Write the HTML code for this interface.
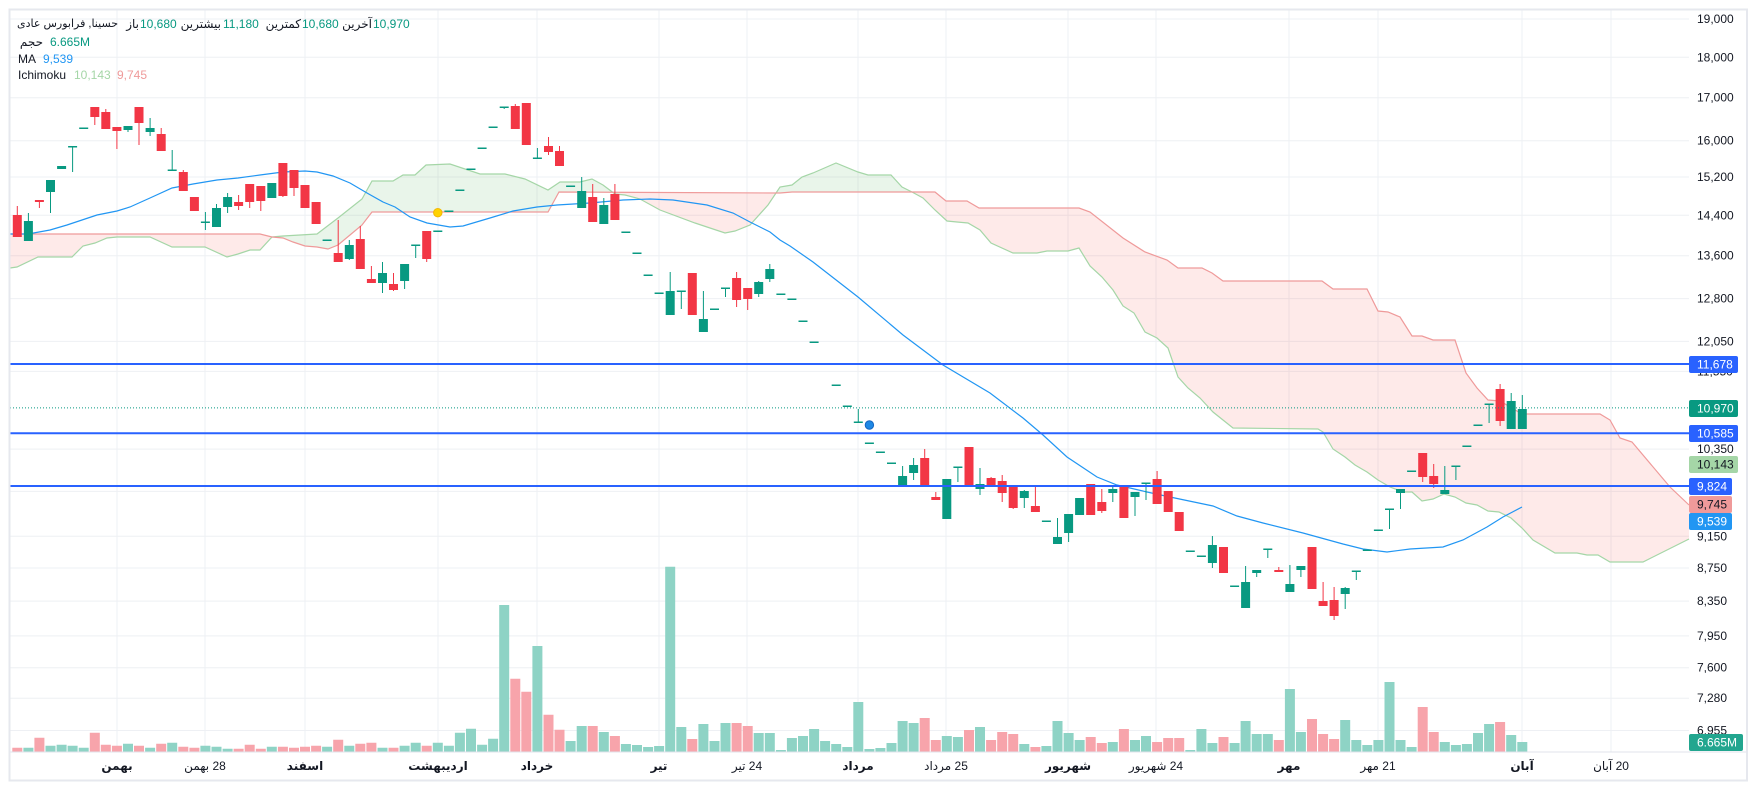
<!DOCTYPE html>
<html><head><meta charset="utf-8">
<style>
html,body{margin:0;padding:0;background:#fff;}
body{width:1757px;height:790px;position:relative;overflow:hidden;font-family:"Liberation Sans","DejaVu Sans",sans-serif;}
svg{position:absolute;left:0;top:0;}
svg text{font-family:"Liberation Sans","DejaVu Sans",sans-serif;font-size:12px;}
.t{position:absolute;font-size:12px;line-height:14px;white-space:nowrap;color:#131722;}
.g{color:#089981;}
.tl{position:absolute;top:759px;font-size:12px;line-height:14px;white-space:nowrap;color:#131722;transform:translateX(-50%);}
.b{font-weight:bold;}
</style></head><body>
<svg width="1757" height="790" viewBox="0 0 1757 790">
<defs>
<clipPath id="abv"><polygon points="10,0 1689,0 1689,505 1670,487 1632,442 1620,438 1610,420 1600,414 1522,414 1500,401 1488,400 1477,388 1466,373 1455,340 1433,340 1422,336 1412,336 1400,317 1388,312 1378,311 1367,289 1333,289 1322,281 1223,281 1212,273 1202,268 1178,268 1167,260 1145,252 1123,238 1090,212 1079,208 979,208 967,201 946,201 935,192 792,192 780,193 559,192 548,212 372,212 362,225 350,235 338,245 328,249 317,247 305,246 293,242 283,238 272,237 260,234 10,234"/></clipPath>
<clipPath id="blw"><polygon points="10,790 1689,790 1689,505 1670,487 1632,442 1620,438 1610,420 1600,414 1522,414 1500,401 1488,400 1477,388 1466,373 1455,340 1433,340 1422,336 1412,336 1400,317 1388,312 1378,311 1367,289 1333,289 1322,281 1223,281 1212,273 1202,268 1178,268 1167,260 1145,252 1123,238 1090,212 1079,208 979,208 967,201 946,201 935,192 792,192 780,193 559,192 548,212 372,212 362,225 350,235 338,245 328,249 317,247 305,246 293,242 283,238 272,237 260,234 10,234"/></clipPath>
</defs>
<!-- grid -->
<g stroke="#eef0f4" stroke-width="1">
<path d="M10 19H1689M10 57.3H1689M10 97.7H1689M10 140.7H1689M10 177H1689M10 215.3H1689M10 255.7H1689M10 298.6H1689M10 341.4H1689M10 371.4H1689M10 449.1H1689M10 491.4H1689M10 536.3H1689M10 568H1689M10 601.1H1689M10 635.9H1689M10 667.7H1689M10 698.2H1689M10 730.5H1689"/>
<path d="M117 10V752M205 10V752M305 10V752M438 10V752M537 10V752M659 10V752M747 10V752M858 10V752M946 10V752M1068 10V752M1156 10V752M1289 10V752M1378 10V752M1522 10V752M1611 10V752"/>
</g>
<!-- volume -->
<path fill="#8ed3c5" d="M23.4 747.7h10V752h-10zM45.5 745.7h10V752h-10zM56.6 744.7h10V752h-10zM67.6 745.7h10V752h-10zM78.7 747.7h10V752h-10zM123 743.7h10V752h-10zM145.1 747.7h10V752h-10zM167.2 742.7h10V752h-10zM200.4 745.7h10V752h-10zM211.5 746.7h10V752h-10zM222.6 748.7h10V752h-10zM266.8 746.7h10V752h-10zM322.1 746.7h10V752h-10zM344.3 745.7h10V752h-10zM377.5 747.7h10V752h-10zM399.6 745.7h10V752h-10zM410.7 742.7h10V752h-10zM432.8 742.7h10V752h-10zM443.9 745.7h10V752h-10zM454.9 732.7h10V752h-10zM466 728.7h10V752h-10zM477.1 744.7h10V752h-10zM488.1 738.7h10V752h-10zM499.2 605h10V752h-10zM532.4 646h10V752h-10zM565.6 741h10V752h-10zM576.7 726h10V752h-10zM598.8 732h10V752h-10zM620.9 744h10V752h-10zM632 745h10V752h-10zM643.1 747h10V752h-10zM654.1 746h10V752h-10zM665.2 566.7h10V752h-10zM676.3 727h10V752h-10zM698.4 724h10V752h-10zM709.5 741h10V752h-10zM720.5 723h10V752h-10zM753.7 733h10V752h-10zM764.8 733h10V752h-10zM775.9 750h10V752h-10zM786.9 738h10V752h-10zM798 736h10V752h-10zM809.1 729h10V752h-10zM820.1 741h10V752h-10zM831.2 744h10V752h-10zM842.3 747h10V752h-10zM853.3 702h10V752h-10zM864.4 749h10V752h-10zM875.4 748h10V752h-10zM886.5 743h10V752h-10zM897.6 721h10V752h-10zM908.6 723h10V752h-10zM941.8 736h10V752h-10zM952.9 737h10V752h-10zM975 727h10V752h-10zM1019.3 744h10V752h-10zM1041.4 746h10V752h-10zM1052.5 721h10V752h-10zM1063.6 733h10V752h-10zM1074.6 740h10V752h-10zM1107.8 742h10V752h-10zM1130 740h10V752h-10zM1141 736h10V752h-10zM1185.3 750h10V752h-10zM1196.4 729h10V752h-10zM1207.4 743h10V752h-10zM1229.6 743h10V752h-10zM1240.6 721h10V752h-10zM1251.7 734h10V752h-10zM1262.8 734h10V752h-10zM1284.9 689h10V752h-10zM1295.9 732h10V752h-10zM1340.2 720h10V752h-10zM1351.3 740h10V752h-10zM1362.3 745h10V752h-10zM1373.4 740h10V752h-10zM1384.5 682h10V752h-10zM1395.5 740h10V752h-10zM1406.6 747h10V752h-10zM1439.8 742h10V752h-10zM1450.9 745h10V752h-10zM1461.9 744h10V752h-10zM1473 733h10V752h-10zM1484.1 724h10V752h-10zM1506.2 735h10V752h-10zM1517.3 742h10V752h-10z"/>
<path fill="#f7a4ab" d="M12.3 747.7h10V752h-10zM34.4 737.7h10V752h-10zM89.8 732.7h10V752h-10zM100.8 744.7h10V752h-10zM111.9 745.7h10V752h-10zM134 745.7h10V752h-10zM156.2 743.7h10V752h-10zM178.3 746.7h10V752h-10zM189.4 747.7h10V752h-10zM233.6 748.7h10V752h-10zM244.7 744.7h10V752h-10zM255.8 748.7h10V752h-10zM277.9 746.7h10V752h-10zM289 747.7h10V752h-10zM300 746.7h10V752h-10zM311.1 745.7h10V752h-10zM333.2 739.7h10V752h-10zM355.3 743.7h10V752h-10zM366.4 742.7h10V752h-10zM388.5 747.7h10V752h-10zM421.7 745.7h10V752h-10zM510.3 678.7h10V752h-10zM521.3 691.7h10V752h-10zM543.5 714.7h10V752h-10zM554.5 729.7h10V752h-10zM587.7 726h10V752h-10zM609.9 736h10V752h-10zM687.3 739h10V752h-10zM731.6 723h10V752h-10zM742.7 726h10V752h-10zM919.7 718h10V752h-10zM930.8 740h10V752h-10zM964 730h10V752h-10zM986.1 740h10V752h-10zM997.2 732h10V752h-10zM1008.2 734h10V752h-10zM1030.4 747h10V752h-10zM1085.7 737h10V752h-10zM1096.8 743h10V752h-10zM1118.9 729h10V752h-10zM1152.1 742h10V752h-10zM1163.2 738h10V752h-10zM1174.2 738h10V752h-10zM1218.5 737h10V752h-10zM1273.8 740h10V752h-10zM1307 719h10V752h-10zM1318.1 734h10V752h-10zM1329.1 739h10V752h-10zM1417.7 707h10V752h-10zM1428.7 732h10V752h-10zM1495.1 722h10V752h-10z"/>
<!-- cloud -->
<polygon id="cp" clip-path="url(#abv)" fill="#4caf50" fill-opacity="0.12" points="10,268 17,267 38,257 72,257 83,246 95,243 107,238 117,237 150,237 172,247 205,247 227,257 238,254 250,250 260,250 272,237 283,236 317,234 338,218 362,199 372,181 393,181 403,175 415,175 426,165 450,164 480,174 505,174 525,179 548,190 560,182 580,182 592,179 603,185 615,194 625,195 640,199 660,210 695,223 710,228 725,233 735,231 750,225 768,205 780,187 792,185 802,177 813,173 836,163 858,172 868,175 891,175 902,187 912,192 923,198 935,210 947,221 957,222 968,223 980,230 991,243 1013,253 1037,253 1047,251 1068,251 1079,248 1090,266 1102,277 1113,290 1123,306 1134,313 1145,332 1157,338 1168,348 1178,377 1188,388 1200,398 1213,412 1233,428 1318,429 1323,432 1333,449 1345,457 1355,465 1367,472 1378,480 1390,487 1403,492 1412,492 1422,501 1433,499 1444,494 1455,497 1466,503 1477,505 1488,511 1499,512 1511,518 1522,528 1533,540 1555,553 1577,553 1587,555 1598,555 1610,562 1643,562 1667,550 1689,539 1689,505 1670,487 1632,442 1620,438 1610,420 1600,414 1522,414 1500,401 1488,400 1477,388 1466,373 1455,340 1433,340 1422,336 1412,336 1400,317 1388,312 1378,311 1367,289 1333,289 1322,281 1223,281 1212,273 1202,268 1178,268 1167,260 1145,252 1123,238 1090,212 1079,208 979,208 967,201 946,201 935,192 792,192 780,193 559,192 548,212 372,212 362,225 350,235 338,245 328,249 317,247 305,246 293,242 283,238 272,237 260,234 10,234"/>
<polygon clip-path="url(#blw)" fill="#f44336" fill-opacity="0.11" points="10,268 17,267 38,257 72,257 83,246 95,243 107,238 117,237 150,237 172,247 205,247 227,257 238,254 250,250 260,250 272,237 283,236 317,234 338,218 362,199 372,181 393,181 403,175 415,175 426,165 450,164 480,174 505,174 525,179 548,190 560,182 580,182 592,179 603,185 615,194 625,195 640,199 660,210 695,223 710,228 725,233 735,231 750,225 768,205 780,187 792,185 802,177 813,173 836,163 858,172 868,175 891,175 902,187 912,192 923,198 935,210 947,221 957,222 968,223 980,230 991,243 1013,253 1037,253 1047,251 1068,251 1079,248 1090,266 1102,277 1113,290 1123,306 1134,313 1145,332 1157,338 1168,348 1178,377 1188,388 1200,398 1213,412 1233,428 1318,429 1323,432 1333,449 1345,457 1355,465 1367,472 1378,480 1390,487 1403,492 1412,492 1422,501 1433,499 1444,494 1455,497 1466,503 1477,505 1488,511 1499,512 1511,518 1522,528 1533,540 1555,553 1577,553 1587,555 1598,555 1610,562 1643,562 1667,550 1689,539 1689,505 1670,487 1632,442 1620,438 1610,420 1600,414 1522,414 1500,401 1488,400 1477,388 1466,373 1455,340 1433,340 1422,336 1412,336 1400,317 1388,312 1378,311 1367,289 1333,289 1322,281 1223,281 1212,273 1202,268 1178,268 1167,260 1145,252 1123,238 1090,212 1079,208 979,208 967,201 946,201 935,192 792,192 780,193 559,192 548,212 372,212 362,225 350,235 338,245 328,249 317,247 305,246 293,242 283,238 272,237 260,234 10,234"/>
<polyline fill="none" stroke="#a5d6a7" stroke-width="1.2" points="10,268 17,267 38,257 72,257 83,246 95,243 107,238 117,237 150,237 172,247 205,247 227,257 238,254 250,250 260,250 272,237 283,236 317,234 338,218 362,199 372,181 393,181 403,175 415,175 426,165 450,164 480,174 505,174 525,179 548,190 560,182 580,182 592,179 603,185 615,194 625,195 640,199 660,210 695,223 710,228 725,233 735,231 750,225 768,205 780,187 792,185 802,177 813,173 836,163 858,172 868,175 891,175 902,187 912,192 923,198 935,210 947,221 957,222 968,223 980,230 991,243 1013,253 1037,253 1047,251 1068,251 1079,248 1090,266 1102,277 1113,290 1123,306 1134,313 1145,332 1157,338 1168,348 1178,377 1188,388 1200,398 1213,412 1233,428 1318,429 1323,432 1333,449 1345,457 1355,465 1367,472 1378,480 1390,487 1403,492 1412,492 1422,501 1433,499 1444,494 1455,497 1466,503 1477,505 1488,511 1499,512 1511,518 1522,528 1533,540 1555,553 1577,553 1587,555 1598,555 1610,562 1643,562 1667,550 1689,539"/>
<polyline fill="none" stroke="#ef9a9a" stroke-width="1.2" points="10,234 260,234 272,237 283,238 293,242 305,246 317,247 328,249 338,245 350,235 362,225 372,212 548,212 559,192 780,193 792,192 935,192 946,201 967,201 979,208 1079,208 1090,212 1123,238 1145,252 1167,260 1178,268 1202,268 1212,273 1223,281 1322,281 1333,289 1367,289 1378,311 1388,312 1400,317 1412,336 1422,336 1433,340 1455,340 1466,373 1477,388 1488,400 1500,401 1522,414 1600,414 1610,420 1620,438 1632,442 1670,487 1689,505"/>
<!-- MA -->
<polyline fill="none" stroke="#2196f3" stroke-width="1.2" points="10,234 28,234 50,230 67,225 97,215 117,211 130,207 150,198 172,188 193,184 217,180 238,178 260,175 283,172 305,171 317,172 333,176 350,183 367,193 383,202 395,207 410,217 427,223 450,227 463,226 490,218 513,211 537,207 557,205 590,203 623,200 650,199 673,200 707,205 733,213 750,222 770,232 780,240 790,246 813,262 858,297 903,335 943,365 990,393 1023,418 1043,435 1067,457 1097,477 1117,485 1147,492 1170,497 1213,506 1237,516 1263,523 1303,533 1343,544 1363,549 1387,552 1410,549 1443,547 1463,540 1487,527 1503,517 1522,507"/>
<!-- candles -->
<path fill="none" stroke="#089981" stroke-width="1" d="M28.4 213V241M50.5 180V213M72.6 146V172M128 126V132M150.1 118V136M172.2 150V170M205.4 212V230M216.5 204V227M227.6 193V213M349.3 240V260M382.5 262V293M404.6 264V289M415.7 245V258M504.2 107V109M537.4 148V158M581.7 177V208M603.8 198V224M670.2 272V315M681.3 291V309M703.4 291V332M725.5 288V297M758.7 281V297M769.8 264V282M858.3 409V422M902.6 466V485M913.6 458V480M957.9 467V482M980 468V495M1024.3 490V508M1057.5 518V544M1068.6 514V542M1112.8 487V502M1135 492V516M1146 483V500M1212.4 536V568M1245.6 566V608M1256.7 570V577M1267.8 549V558M1289.9 565V592M1300.9 566V577M1345.2 587V609M1356.3 571V580M1389.5 509V529M1400.5 489V509M1444.8 466V494M1455.9 466V480M1489.1 404V423M1511.2 393V429M1522.3 395V429"/>
<path fill="none" stroke="#f23645" stroke-width="1" d="M17.3 206V237M39.4 200V208M94.8 107V125M105.8 109V129M116.9 127V149M139 107V145M161.2 128V151M183.3 170V191M238.6 195V210M249.7 184V208M260.8 186V211M282.9 163V197M294 170V196M338.2 220V262M360.3 226V269M371.4 266V283M393.5 273V291M426.7 231V262M515.3 104V129M548.5 137V155M559.5 146V166M592.7 184V222M614.9 184V220M736.6 272V307M747.7 288V310M924.7 449V485M935.8 492V500M991.1 477V487M1002.2 475V502M1013.2 486V509M1035.4 487V512M1101.8 489V513M1157.1 471V504M1278.8 567V572M1323.1 582V606M1334.1 587V620M1422.7 453V482M1433.7 464V488M1500.1 384V426"/>
<path fill="#089981" d="M23.9 221h9v20h-9zM46 180h9v12h-9zM57.1 166h9v3h-9zM68.1 146h9v1.5h-9zM79.2 127.5h9v1.5h-9zM123.5 126h9v4h-9zM145.6 128h9v4h-9zM167.7 169.5h9v1.5h-9zM200.9 221.5h9v1.5h-9zM212 208h9v19h-9zM223.1 197h9v10h-9zM267.3 183h9v15h-9zM322.6 239.5h9v1.5h-9zM344.8 245h9v14h-9zM378 273h9v10h-9zM400.1 264h9v17h-9zM411.2 244.5h9v1.5h-9zM433.3 230.5h9v1.5h-9zM444.4 210.5h9v1.5h-9zM455.4 189.5h9v1.5h-9zM466.5 168.5h9v1.5h-9zM477.6 147.5h9v1.5h-9zM488.6 126.5h9v1.5h-9zM499.7 106.5h9v1.5h-9zM532.9 157.5h9v1.5h-9zM566.1 185.5h9v1.5h-9zM577.2 191h9v17h-9zM599.3 205h9v19h-9zM621.4 231.5h9v1.5h-9zM632.5 252.5h9v1.5h-9zM643.6 274.5h9v1.5h-9zM654.6 292.5h9v1.5h-9zM665.7 291h9v24h-9zM676.8 290.5h9v1.5h-9zM698.9 319h9v13h-9zM710 308.5h9v1.5h-9zM721 287.5h9v1.5h-9zM754.2 282h9v12h-9zM765.3 269h9v10h-9zM776.4 293.5h9v1.5h-9zM787.4 298.5h9v1.5h-9zM798.5 320.5h9v1.5h-9zM809.6 341.5h9v1.5h-9zM820.6 363.5h9v1.5h-9zM831.7 384.5h9v1.5h-9zM842.8 405.5h9v1.5h-9zM853.8 421.5h9v1.5h-9zM864.9 442.5h9v1.5h-9zM875.9 451.5h9v1.5h-9zM887 462.5h9v1.5h-9zM898.1 476h9v9h-9zM909.1 465h9v8h-9zM942.3 479h9v40h-9zM953.4 466.5h9v1.5h-9zM975.5 484h9v5h-9zM1019.8 491h9v7h-9zM1041.9 520.5h9v1.5h-9zM1053 537h9v7h-9zM1064.1 514h9v19h-9zM1075.1 498h9v17h-9zM1108.3 489h9v4h-9zM1130.5 492h9v5h-9zM1141.5 482.5h9v1.5h-9zM1185.8 550.5h9v1.5h-9zM1196.9 555.5h9v1.5h-9zM1207.9 545h9v18h-9zM1230.1 585.5h9v1.5h-9zM1241.1 582h9v26h-9zM1252.2 570h9v3h-9zM1263.3 548.5h9v1.5h-9zM1285.4 584h9v8h-9zM1296.4 566h9v4h-9zM1340.7 588h9v6h-9zM1351.8 570.5h9v1.5h-9zM1362.8 549.5h9v1.5h-9zM1373.9 529.5h9v1.5h-9zM1385 508.5h9v1.5h-9zM1396 489h9v4h-9zM1407.1 470.5h9v1.5h-9zM1440.3 490h9v4h-9zM1451.4 465.5h9v1.5h-9zM1462.4 445.5h9v1.5h-9zM1473.5 424.5h9v1.5h-9zM1484.6 403.5h9v1.5h-9zM1506.7 401h9v28h-9zM1517.8 409h9v20h-9z"/>
<path fill="#f23645" d="M12.8 215h9v22h-9zM34.9 200h9v2h-9zM90.3 107h9v10h-9zM101.3 112h9v17h-9zM112.4 127h9v4h-9zM134.5 107h9v16h-9zM156.7 134h9v17h-9zM178.8 172h9v19h-9zM189.9 197h9v14h-9zM234.1 202h9v4h-9zM245.2 184h9v18h-9zM256.3 186h9v15h-9zM278.4 163h9v33h-9zM289.5 170h9v18h-9zM300.5 185h9v23h-9zM311.6 202h9v22h-9zM333.7 253h9v9h-9zM355.8 239h9v30h-9zM366.9 279h9v4h-9zM389 284h9v6h-9zM422.2 231h9v28h-9zM510.8 106h9v23h-9zM521.8 103h9v42h-9zM544 146h9v6h-9zM555 151h9v15h-9zM588.2 197h9v25h-9zM610.4 194h9v26h-9zM687.8 273h9v42h-9zM732.1 278h9v22h-9zM743.2 288h9v11h-9zM920.2 458h9v27h-9zM931.3 497h9v3h-9zM964.5 447h9v38h-9zM986.6 478h9v7h-9zM997.7 481h9v12h-9zM1008.7 486h9v22h-9zM1030.9 506h9v6h-9zM1086.2 484h9v31h-9zM1097.3 502h9v9h-9zM1119.4 486h9v32h-9zM1152.6 479h9v25h-9zM1163.7 491h9v21h-9zM1174.7 512h9v19h-9zM1219 547h9v26h-9zM1274.3 570h9v2h-9zM1307.5 547h9v42h-9zM1318.6 601h9v5h-9zM1329.6 600h9v16h-9zM1418.2 453h9v24h-9zM1429.2 476h9v8h-9zM1495.6 389h9v32h-9z"/>
<!-- markers -->
<circle cx="437.8" cy="212.7" r="4.2" fill="#ffd200" stroke="#f2b705" stroke-width="1"/>
<circle cx="869.4" cy="425" r="4.2" fill="#1e88e5" stroke="#1565c0" stroke-width="1"/>
<!-- horizontal levels -->
<path d="M10 407.9H1689" stroke="#089981" stroke-width="1" stroke-dasharray="1 2"/>
<path d="M10 364H1689M10 433.2H1689M10 486H1689" stroke="#2962ff" stroke-width="2"/>
<!-- frame -->
<path d="M10 752H1747" stroke="#e0e3eb" stroke-width="1"/>
<rect x="9.5" y="9.5" width="1737.5" height="771" fill="none" stroke="#e6e8ee" stroke-width="2"/>
<!-- price axis labels -->
<g fill="#131722">
<text x="1697" y="23">19,000</text>
<text x="1697" y="61.3">18,000</text>
<text x="1697" y="101.7">17,000</text>
<text x="1697" y="144.7">16,000</text>
<text x="1697" y="181">15,200</text>
<text x="1697" y="219.3">14,400</text>
<text x="1697" y="259.7">13,600</text>
<text x="1697" y="302.6">12,800</text>
<text x="1697" y="345.4">12,050</text>
<text x="1697" y="375.4">11,550</text>
<text x="1697" y="453.1">10,350</text>
<text x="1697" y="540.3">9,150</text>
<text x="1697" y="572">8,750</text>
<text x="1697" y="605.1">8,350</text>
<text x="1697" y="639.9">7,950</text>
<text x="1697" y="671.7">7,600</text>
<text x="1697" y="702.2">7,280</text>
<text x="1697" y="734.5">6,955</text>
</g>
<rect x="1689" y="356" width="49" height="17" rx="2" fill="#2962ff"/>
<text x="1697" y="368.5" fill="#fff">11,678</text>
<rect x="1689" y="400" width="49" height="17" rx="2" fill="#089981"/>
<text x="1697" y="412.5" fill="#fff">10,970</text>
<rect x="1689" y="425" width="49" height="17" rx="2" fill="#2962ff"/>
<text x="1697" y="437.5" fill="#fff">10,585</text>
<rect x="1689" y="456" width="49" height="17" rx="2" fill="#a5d6a7"/>
<text x="1697" y="468.5" fill="#131722">10,143</text>
<rect x="1689" y="478" width="43" height="17" rx="2" fill="#2962ff"/>
<text x="1697" y="490.5" fill="#fff">9,824</text>
<rect x="1689" y="496" width="43" height="17" rx="2" fill="#ef9a9a"/>
<text x="1697" y="508.5" fill="#131722">9,745</text>
<rect x="1689" y="513" width="43" height="17" rx="2" fill="#2196f3"/>
<text x="1697" y="525.5" fill="#fff">9,539</text>
<rect x="1689" y="734" width="54" height="17" rx="2" fill="#22a68f"/>
<text x="1697" y="746.5" fill="#fff">6.665M</text>
</svg>

<!-- legend -->
<div class="t" style="left:17px;top:17px;font-size:11px" dir="rtl">حسینا, فرابورس عادی</div>
<div class="t" style="right:1618px;top:17px" dir="rtl">باز</div>
<div class="t g" style="left:140px;top:17px">10,680</div>
<div class="t" style="right:1536px;top:17px" dir="rtl">بیشترین</div>
<div class="t g" style="left:223px;top:17px">11,180</div>
<div class="t" style="right:1456px;top:17px" dir="rtl">کمترین</div>
<div class="t g" style="left:302px;top:17px">10,680</div>
<div class="t" style="right:1385px;top:17px" dir="rtl">آخرین</div>
<div class="t g" style="left:373px;top:17px">10,970</div>

<div class="t" style="right:1714px;top:35px" dir="rtl">حجم</div>
<div class="t g" style="left:50px;top:35px">6.665M</div>
<div class="t" style="left:18px;top:52px">MA</div>
<div class="t" style="left:43px;top:52px;color:#2196f3">9,539</div>
<div class="t" style="left:18px;top:68px">Ichimoku</div>
<div class="t" style="left:74px;top:68px;color:#a5d6a7">10,143</div>
<div class="t" style="left:117px;top:68px;color:#ef9a9a">9,745</div>

<!-- time axis -->
<div class="tl b" style="left:117px" dir="rtl">بهمن</div>
<div class="tl" style="left:205px" dir="rtl">28 بهمن</div>
<div class="tl b" style="left:305px" dir="rtl">اسفند</div>
<div class="tl b" style="left:438px" dir="rtl">اردیبهشت</div>
<div class="tl b" style="left:537px" dir="rtl">خرداد</div>
<div class="tl b" style="left:659px" dir="rtl">تیر</div>
<div class="tl" style="left:747px" dir="rtl">24 تیر</div>
<div class="tl b" style="left:858px" dir="rtl">مرداد</div>
<div class="tl" style="left:946px" dir="rtl">25 مرداد</div>
<div class="tl b" style="left:1068px" dir="rtl">شهریور</div>
<div class="tl" style="left:1156px" dir="rtl">24 شهریور</div>
<div class="tl b" style="left:1289px" dir="rtl">مهر</div>
<div class="tl" style="left:1378px" dir="rtl">21 مهر</div>
<div class="tl b" style="left:1522px" dir="rtl">آبان</div>
<div class="tl" style="left:1611px" dir="rtl">20 آبان</div>
</body></html>
